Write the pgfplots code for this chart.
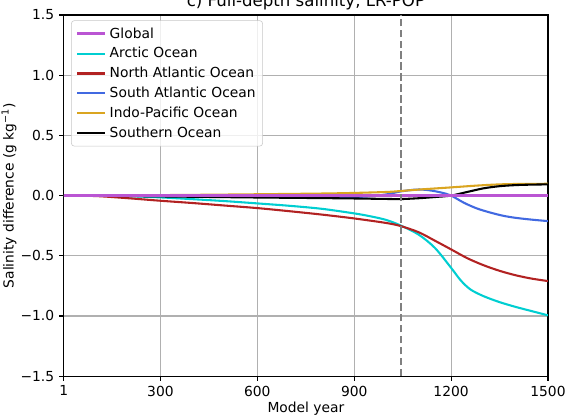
\documentclass[border=0pt]{standalone}
\usepackage{pgfplots}
\pgfplotsset{compat=1.18}
\usepackage{fontspec}
\setmainfont{DejaVu Sans}
\definecolor{cglob}{HTML}{BA55D3}
\definecolor{carc}{HTML}{00CED1}
\definecolor{cna}{HTML}{B22222}
\definecolor{csa}{HTML}{4169E1}
\definecolor{cip}{HTML}{DAA520}
\definecolor{gridc}{HTML}{B0B0B0}
\begin{document}
\begin{tikzpicture}
\begin{axis}[
  scale only axis, width=348.5bp, height=260bp,
  at={(0,0)}, anchor=south west,
  xmin=1, xmax=1500, ymin=-1.5, ymax=1.5,
  xtick={1,300,600,900,1200,1500},
  xticklabels={1,300,600,900,1200,1500},
  ytick={-1.5,-1,-0.5,0,0.5,1,1.5},
  yticklabels={−1.5,−1.0,−0.5,0.0,0.5,1.0,1.5},
  tick label style={font=\fontsize{10}{12}\selectfont},
  label style={font=\fontsize{10}{12}\selectfont},
  xlabel={Model year}, ylabel={Salinity difference (g kg\textsuperscript{−1})},
  xlabel style={yshift=3pt},
  ylabel style={yshift=-4pt},
  grid=major, major grid style={gridc, line width=0.8pt},
  axis line style={line width=0.8pt},
  tick style={black, line width=0.8pt},
  tick align=outside, major tick length=3.5pt,
  xtick pos=bottom, ytick pos=left,
  legend style={font=\fontsize{10}{12}\selectfont, draw=gridc!70, rounded corners=2pt, fill=white, fill opacity=0.8, text opacity=1, at={(0.015,0.985)}, anchor=north west, row sep=1.2pt, inner sep=3pt},
  legend cell align=left,
  legend image code/.code={\draw[#1] (0cm,0cm) -- (0.72cm,0cm);},
  clip=true,
]
\addplot[cglob, line width=2.2pt] coordinates {(1,0) (1500,0)};
\addlegendentry{Global}
\addplot[carc, line width=1.5pt, smooth] coordinates {
(1,0) (100,0) (200,-0.005) (300,-0.015) (400,-0.03) (500,-0.046) (600,-0.065) (700,-0.085) (800,-0.11) (900,-0.148) (950,-0.172) (1000,-0.203) (1045,-0.25) (1100,-0.325) (1150,-0.435) (1200,-0.6) (1230,-0.705) (1260,-0.78) (1300,-0.835) (1350,-0.885) (1400,-0.925) (1450,-0.96) (1500,-0.995)};
\addlegendentry{Arctic Ocean}
\addplot[cna, line width=1.5pt, smooth] coordinates {
(1,0) (100,-0.004) (200,-0.022) (300,-0.043) (400,-0.062) (500,-0.083) (600,-0.104) (700,-0.13) (800,-0.158) (900,-0.19) (1000,-0.228) (1045,-0.254) (1100,-0.305) (1150,-0.375) (1200,-0.447) (1250,-0.52) (1300,-0.578) (1350,-0.625) (1400,-0.662) (1450,-0.69) (1500,-0.71)};
\addlegendentry{North Atlantic Ocean}
\addplot[csa, line width=1.5pt, smooth] coordinates {
(1,0) (300,-0.003) (600,-0.008) (900,-0.01) (950,-0.005) (1000,0.01) (1045,0.035) (1093,0.05) (1130,0.045) (1170,0.025) (1200,0) (1240,-0.06) (1280,-0.107) (1320,-0.14) (1360,-0.167) (1400,-0.185) (1450,-0.2) (1500,-0.212)};
\addlegendentry{South Atlantic Ocean}
\addplot[cip, line width=1.5pt, smooth] coordinates {
(1,0) (200,0.002) (400,0.006) (600,0.011) (800,0.017) (900,0.022) (1000,0.03) (1045,0.038) (1100,0.05) (1200,0.068) (1280,0.083) (1350,0.093) (1420,0.097) (1500,0.098)};
\addlegendentry{Indo-Pacific Ocean}
\addplot[black, line width=1.5pt, smooth] coordinates {
(1,0) (200,-0.004) (400,-0.01) (600,-0.016) (800,-0.021) (900,-0.024) (1000,-0.028) (1045,-0.029) (1100,-0.022) (1150,-0.012) (1200,0) (1250,0.03) (1300,0.06) (1350,0.078) (1400,0.087) (1450,0.091) (1500,0.093)};
\addlegendentry{Southern Ocean}
\addplot[cglob, line width=2.2pt, forget plot] coordinates {(1,0) (1500,0)};
\addplot[gray, line width=1.5pt, dash pattern=on 5.5pt off 2.4pt, forget plot] coordinates {(1045,-1.5) (1045,1.5)};
\end{axis}
\node[anchor=base, font=\fontsize{12}{14}\selectfont] at (174.25bp,266bp) {c) Full-depth salinity, LR-POP};
\pgfresetboundingbox
\useasboundingbox (-46bp,-30.2bp) rectangle (362.2bp,270.8bp);
\end{tikzpicture}
\end{document}
